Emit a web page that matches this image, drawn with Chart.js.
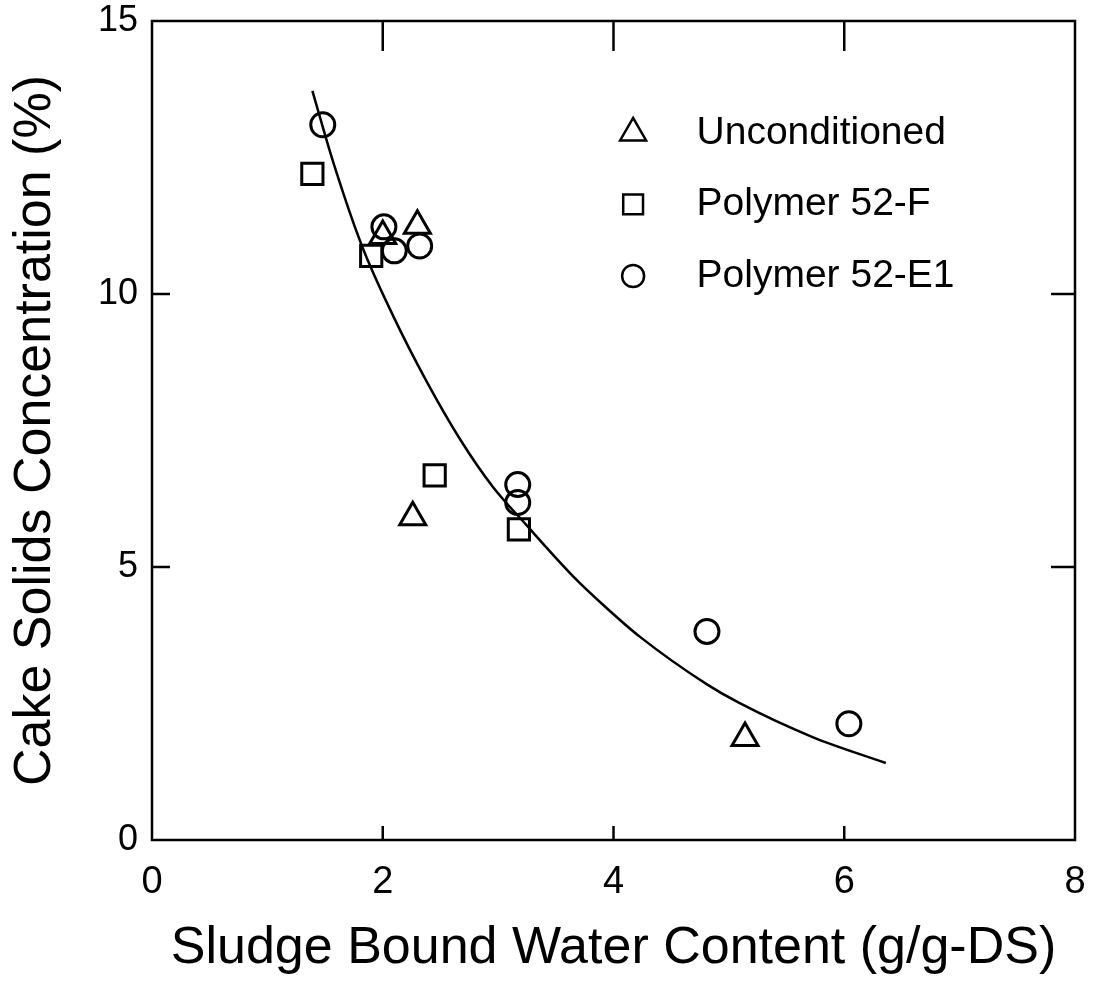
<!DOCTYPE html>
<html><head><meta charset="utf-8">
<script src="https://cdn.jsdelivr.net/npm/chart.js@4/dist/chart.umd.min.js"></script>
<style>html,body{margin:0;padding:0;background:#fff}#wrap{width:1106px;height:984px}</style>
</head><body><div id="wrap"><canvas id="c" width="1106" height="984"></canvas></div>
<script>
const xTicks = [0, 2, 4, 6, 8];
const yTicks = [0, 5, 10, 15];
const seriesNames = ["Unconditioned", "Polymer 52-F", "Polymer 52-E1"];
const unconditionedX = [2.00, 2.30, 2.26, 5.14];
const unconditionedY = [11.06, 11.25, 5.91, 1.87];
const poly52FX = [1.39, 1.90, 2.45, 3.18];
const poly52FY = [12.2, 10.7, 6.68, 5.69];
const poly52E1X = [1.48, 2.01, 2.10, 2.32, 3.17, 3.17, 4.81, 6.04];
const poly52E1Y = [13.1, 11.23, 10.79, 10.88, 6.51, 6.18, 3.82, 2.13];
const fitX = [1.39, 1.57, 1.82, 2.09, 2.38, 2.67, 2.95, 3.24, 3.65, 3.94, 4.23, 4.81, 5.09, 5.72, 6.36];
const fitY = [13.72, 12.42, 10.88, 9.60, 8.40, 7.34, 6.48, 5.78, 4.83, 4.25, 3.72, 2.85, 2.51, 1.89, 1.41];

const pts = (xs, ys) => xs.map((x, i) => ({x, y: ys[i]}));
const FONT = "'Liberation Sans', Arial, sans-serif";

const boxPlugin = {
  id: 'box',
  afterDraw(chart) {
    const {ctx, chartArea: a, scales: {x, y}} = chart;
    ctx.save();
    ctx.strokeStyle = '#000';
    ctx.lineWidth = 2.5;
    ctx.strokeRect(a.left, a.top, a.right - a.left, a.bottom - a.top);
    xTicks.slice(1, -1).forEach(v => {
      const px = x.getPixelForValue(v);
      ctx.beginPath(); ctx.moveTo(px, a.bottom); ctx.lineTo(px, a.bottom - 14); ctx.stroke();
      ctx.beginPath(); ctx.moveTo(px, a.top); ctx.lineTo(px, a.top + 30); ctx.stroke();
    });
    yTicks.slice(1, -1).forEach(v => {
      const py = y.getPixelForValue(v);
      ctx.beginPath(); ctx.moveTo(a.left, py); ctx.lineTo(a.left + 18, py); ctx.stroke();
      ctx.beginPath(); ctx.moveTo(a.right, py); ctx.lineTo(a.right - 24, py); ctx.stroke();
    });
    // legend
    const styles = ['triangle', 'rect', 'circle'];
    const radii = [15, 14, 11];
    const lx = x.getPixelForValue(4.17), tx = x.getPixelForValue(4.72);
    seriesNames.forEach((n, i) => {
      const py = y.getPixelForValue(12.95 - i * 1.31);
      ctx.lineWidth = 2.5;
      ctx.fillStyle = '#fff';
      ctx.strokeStyle = '#000';
      Chart.helpers.drawPoint(ctx, {pointStyle: styles[i], radius: radii[i], borderWidth: 2.5}, lx, py);
      ctx.fillStyle = '#000';
      ctx.font = '39px ' + FONT;
      ctx.textBaseline = 'middle';
      ctx.fillText(n, tx, py);
    });
    ctx.restore();
  }
};

const common = {showLine: false, backgroundColor: 'rgba(0,0,0,0)', borderColor: '#000', pointBorderWidth: 3};
new Chart(document.getElementById('c'), {
  type: 'scatter',
  data: {
    datasets: [
      {type: 'line', label: 'fit', data: pts(fitX, fitY), borderColor: '#000', borderWidth: 2.5, pointRadius: 0, cubicInterpolationMode: 'monotone', fill: false},
      {...common, label: seriesNames[0], data: pts(unconditionedX, unconditionedY), pointStyle: 'triangle', pointRadius: 15},
      {...common, label: seriesNames[1], data: pts(poly52FX, poly52FY), pointStyle: 'rect', pointRadius: 15},
      {...common, label: seriesNames[2], data: pts(poly52E1X, poly52E1Y), pointStyle: 'circle', pointRadius: 12}
    ]
  },
  options: {
    responsive: false, animation: false,
    layout: {padding: {top: 21, right: 31, left: 0, bottom: 0}},
    plugins: {legend: {display: false}, tooltip: {enabled: false}},
    scales: {
      x: {
        type: 'linear', min: 0, max: 8,
        afterBuildTicks: s => { s.ticks = xTicks.map(v => ({value: v})); },
        afterFit: s => { s.height = 144; s.paddingLeft = 0; s.paddingRight = 0; },
        grid: {display: false, drawTicks: false}, border: {display: false},
        ticks: {color: '#000', font: {family: FONT, size: 38}, padding: 20, maxRotation: 0},
        title: {display: true, text: 'Sludge Bound Water Content (g/g-DS)', color: '#000', font: {family: FONT, size: 52}, padding: {top: 2}}
      },
      y: {
        type: 'linear', min: 0, max: 15,
        afterBuildTicks: s => { s.ticks = yTicks.map(v => ({value: v})); },
        afterFit: s => { s.width = 152; s.paddingTop = 0; s.paddingBottom = 0; },
        grid: {display: false, drawTicks: false}, border: {display: false},
        ticks: {color: '#000', font: {family: FONT, size: 36}, padding: 14},
        title: {display: true, text: 'Cake Solids Concentration (%)', color: '#000', font: {family: FONT, size: 52}, padding: {bottom: 0}}
      }
    }
  },
  plugins: [boxPlugin]
});
</script></body></html>
